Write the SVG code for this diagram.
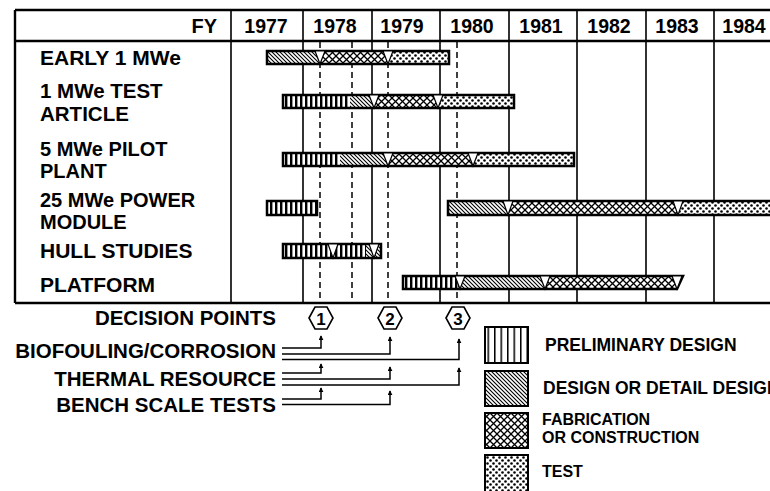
<svg xmlns="http://www.w3.org/2000/svg" width="770" height="491" viewBox="0 0 770 491">
<defs>
<style>
.t{font-family:"Liberation Sans",Arial,sans-serif;font-weight:bold;fill:#000}
.grid{stroke:#000;stroke-width:1.6;fill:none}
.frame{stroke:#000;stroke-width:2.4;fill:none}
.dash{stroke:#000;stroke-width:1.5;stroke-dasharray:6 4;fill:none}
.bar{fill:none;stroke:#000;stroke-width:2.5}
.tri{fill:#fff;stroke:#000;stroke-width:1.2}
.conn{fill:none;stroke:#000;stroke-width:1.5}
.hex{fill:#fff;stroke:#000;stroke-width:1.6}
.lg{stroke:#000;stroke-width:2}
</style>
<pattern id="pre" width="5" height="20" patternUnits="userSpaceOnUse"><rect width="5" height="20" fill="#fff"/><rect x="0" width="2.4" height="20" fill="#000"/></pattern>
<pattern id="preL" width="6.5" height="20" patternUnits="userSpaceOnUse"><rect width="6.5" height="20" fill="#fff"/><rect x="0" width="1.5" height="20" fill="#000"/></pattern>
<pattern id="des" width="4" height="4" patternUnits="userSpaceOnUse"><rect width="4" height="4" fill="#fff"/><path d="M-1,-1 L5,5 M-1,3 L1,5 M3,-1 L5,1" stroke="#000" stroke-width="1.1"/></pattern>
<pattern id="fab" width="7" height="7" patternUnits="userSpaceOnUse"><rect width="7" height="7" fill="#fff"/><path d="M0,0 L7,7 M7,0 L0,7" stroke="#000" stroke-width="1.3"/></pattern>
<pattern id="tst" width="6" height="6" patternUnits="userSpaceOnUse"><rect width="6" height="6" fill="#fff"/><circle cx="1.5" cy="1.5" r="1.3" fill="#000"/><circle cx="4.5" cy="4.5" r="1.3" fill="#000"/></pattern>
<marker id="tip" viewBox="0 0 6 6" refX="5" refY="3" markerWidth="5" markerHeight="5" markerUnits="userSpaceOnUse" orient="auto"><path d="M0,0 L6,3 L0,6 z" fill="#000"/></marker>
</defs>
<rect width="770" height="491" fill="#fff"/>

<g id="table">
<path class="frame" d="M15,10 H772 M15,41 H772 M15,303 H772 M15,10 V303"/>
<path class="grid" d="M231,10 V303 M303,10 V303 M372,10 V303 M440,10 V303 M509,10 V303 M577,10 V303 M646,10 V303 M714,10 V303"/>
<path class="dash" d="M320,42 V302 M352,42 V302 M388,42 V302 M457,42 V302"/>
<text class="t" x="217" y="33" font-size="20" text-anchor="end">FY</text>
<g font-size="19.5" text-anchor="middle">
<text class="t" x="266" y="33">1977</text>
<text class="t" x="335" y="33">1978</text>
<text class="t" x="402" y="33">1979</text>
<text class="t" x="472" y="33">1980</text>
<text class="t" x="541" y="33">1981</text>
<text class="t" x="609" y="33">1982</text>
<text class="t" x="677" y="33">1983</text>
<text class="t" x="744" y="33">1984</text>
</g>
</g>

<g id="row-early">
<text class="t" x="40" y="65" font-size="21">EARLY 1 MWe</text>
<rect x="267" y="51" width="53" height="13" fill="url(#des)"/>
<rect x="320" y="51" width="68" height="13" fill="url(#fab)"/>
<rect x="388" y="51" width="61" height="13" fill="url(#tst)"/>
<rect class="bar" x="267" y="51" width="182" height="13"/>
<polygon class="tri" points="315,51 325,51 320,64"/>
<polygon class="tri" points="383,51 393,51 388,64"/>
</g>

<g id="row-test-article">
<text class="t" x="40" y="98" font-size="20.5">1 MWe TEST</text>
<text class="t" x="40" y="121" font-size="20.5">ARTICLE</text>
<rect x="283" y="95" width="67" height="13" fill="url(#pre)"/>
<rect x="350" y="95" width="24" height="13" fill="url(#des)"/>
<rect x="374" y="95" width="64" height="13" fill="url(#fab)"/>
<rect x="438" y="95" width="76" height="13" fill="url(#tst)"/>
<rect class="bar" x="283" y="95" width="231" height="13"/>
<polygon class="tri" points="369,95 379,95 374,108"/>
<polygon class="tri" points="433,95 443,95 438,108"/>
</g>

<g id="row-pilot">
<text class="t" x="40" y="156" font-size="20">5 MWe PILOT</text>
<text class="t" x="40" y="177.5" font-size="20">PLANT</text>
<rect x="283" y="153" width="57" height="13" fill="url(#pre)"/>
<rect x="340" y="153" width="48" height="13" fill="url(#des)"/>
<rect x="388" y="153" width="85" height="13" fill="url(#fab)"/>
<rect x="473" y="153" width="101" height="13" fill="url(#tst)"/>
<rect class="bar" x="283" y="153" width="291" height="13"/>
<polygon class="tri" points="383,153 393,153 388,166"/>
<polygon class="tri" points="468,153 478,153 473,166"/>
</g>

<g id="row-power-module">
<text class="t" x="40" y="207" font-size="20">25 MWe POWER</text>
<text class="t" x="40" y="228.5" font-size="20">MODULE</text>
<rect x="267" y="201" width="50" height="14" fill="url(#pre)"/>
<rect class="bar" x="267" y="201" width="50" height="14"/>
<rect x="448" y="201" width="60" height="14" fill="url(#des)"/>
<rect x="508" y="201" width="170" height="14" fill="url(#fab)"/>
<rect x="678" y="201" width="97" height="14" fill="url(#tst)"/>
<rect class="bar" x="448" y="201" width="327" height="14"/>
<polygon class="tri" points="503,201 513,201 508,215"/>
<polygon class="tri" points="673,201 683,201 678,215"/>
</g>

<g id="row-hull">
<text class="t" x="40" y="258" font-size="21">HULL STUDIES</text>
<rect x="283" y="244" width="83" height="14" fill="url(#pre)"/>
<rect x="366" y="244" width="15" height="14" fill="url(#des)"/>
<rect class="bar" x="283" y="244" width="98" height="14"/>
<polygon class="tri" points="328,244 338,244 333,258"/>
<polygon class="tri" points="369,244 379,244 374,258"/>
</g>

<g id="row-platform">
<text class="t" x="40" y="292" font-size="21">PLATFORM</text>
<rect x="403" y="276" width="55" height="13" fill="url(#pre)"/>
<rect x="458" y="276" width="87" height="13" fill="url(#des)"/>
<polygon points="545,276 683,276 677,289 545,289" fill="url(#fab)"/>
<polygon class="bar" points="403,276 683,276 677,289 403,289"/>
<polygon class="tri" points="455,276 465,276 460,289"/>
<polygon class="tri" points="540,276 550,276 545,289"/>
<polygon class="tri" points="672,276 682,276 677,289"/>
</g>

<g id="decision-points">
<text class="t" x="276" y="325" font-size="20.5" text-anchor="end">DECISION POINTS</text>
<g id="dp1"><polygon class="hex" points="309,318 315,307 327,307 333,318 327,329 315,329"/><text class="t" x="321" y="324.5" font-size="17" text-anchor="middle">1</text></g>
<g id="dp2"><polygon class="hex" points="378,318 384,307 396,307 402,318 396,329 384,329"/><text class="t" x="390" y="324.5" font-size="17" text-anchor="middle">2</text></g>
<g id="dp3"><polygon class="hex" points="446,318 452,307 464,307 470,318 464,329 452,329"/><text class="t" x="458" y="324.5" font-size="17" text-anchor="middle">3</text></g>
</g>

<g id="biofouling"><text class="t" x="276" y="358" font-size="20.5" text-anchor="end">BIOFOULING/CORROSION</text></g>
<g id="thermal"><text class="t" x="276" y="386" font-size="20.5" text-anchor="end">THERMAL RESOURCE</text></g>
<g id="bench"><text class="t" x="276" y="412" font-size="20.5" text-anchor="end">BENCH SCALE TESTS</text></g>

<g id="connectors">
<path class="conn" marker-end="url(#tip)" d="M282,348 H321 V336"/>
<path class="conn" marker-end="url(#tip)" d="M282,354 H390 V337"/>
<path class="conn" marker-end="url(#tip)" d="M282,359.5 H459 V339"/>
<path class="conn" marker-end="url(#tip)" d="M282,373 H321 V364"/>
<path class="conn" marker-end="url(#tip)" d="M282,379 H390 V367"/>
<path class="conn" marker-end="url(#tip)" d="M282,385 H459 V368"/>
<path class="conn" marker-end="url(#tip)" d="M282,399 H321 V388"/>
<path class="conn" marker-end="url(#tip)" d="M282,404.5 H390 V391"/>
</g>

<g id="legend-preliminary">
<rect class="lg" x="485" y="327" width="43" height="36" fill="url(#preL)"/>
<text class="t" x="545" y="351" font-size="17.5">PRELIMINARY DESIGN</text>
</g>
<g id="legend-design">
<rect class="lg" x="485" y="371" width="43" height="35" fill="url(#des)"/>
<text class="t" x="543" y="394" font-size="17.5">DESIGN OR DETAIL DESIGN</text>
</g>
<g id="legend-fabrication">
<rect class="lg" x="485" y="413" width="43" height="35" fill="url(#fab)"/>
<text class="t" x="542" y="425" font-size="16">FABRICATION</text>
<text class="t" x="542" y="443" font-size="16">OR CONSTRUCTION</text>
</g>
<g id="legend-test">
<rect class="lg" x="485" y="455" width="43" height="40" fill="url(#tst)"/>
<text class="t" x="542" y="477" font-size="16">TEST</text>
</g>
</svg>
